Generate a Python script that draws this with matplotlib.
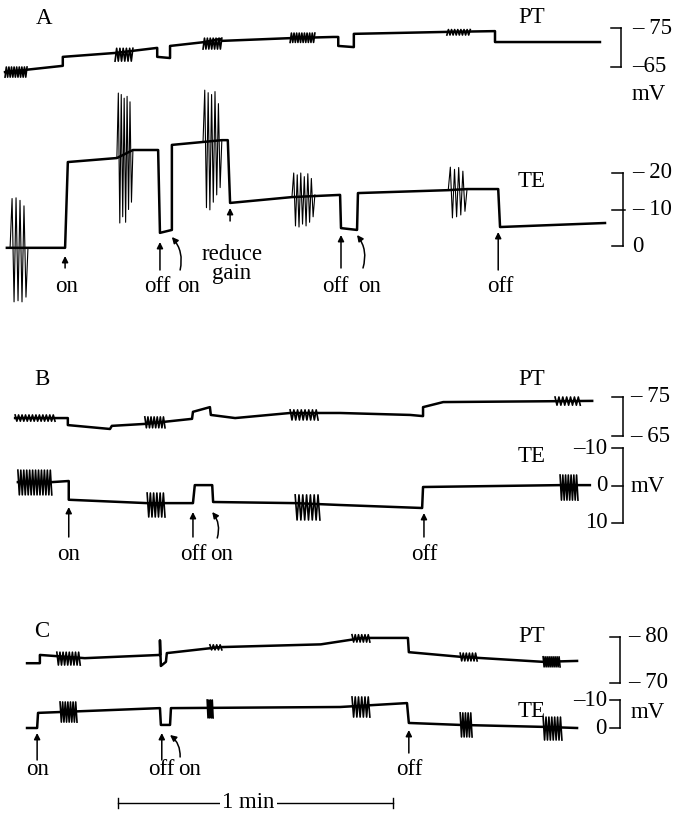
import numpy as np
import matplotlib.pyplot as plt

plt.rcParams['font.family'] = ['Liberation Serif', 'DejaVu Serif']

W, H = 673, 815            # output size in pixels
PX_PER_S = 275 / 60.0      # the 1 min bar is 275 px long
T_MAX = W / PX_PER_S
FS = 16.5

# ---------------- data (time in s, potential in mV) ----------------
# panel A, PT
a_pt_t = [1.1, 13.7, 13.7, 25.1, 34.3, 34.3, 37.1, 37.1, 44.7, 48.0, 48.4, 63.3,
          72.7, 73.8, 73.8, 77.2, 77.2, 97.5, 108.0, 108.0, 130.9]
a_pt_v = [-63.7, -65.3, -67.6, -68.6, -69.9, -67.6, -67.3, -70.4, -71.4, -72.2, -71.7, -72.4,
          -72.7, -72.7, -70.4, -70.1, -73.5, -74.0, -74.2, -71.4, -71.4]
# bursts: start, end, high, low, cycles
a_pt_bursts = [(1.1, 5.9, -62.4, -65.0, 9), (25.1, 29.0, -66.5, -69.8, 6),
               (44.3, 48.4, -69.6, -72.4, 7), (63.3, 68.7, -71.3, -73.7, 10),
               (97.5, 102.6, -73.2, -74.6, 8)]

# panel A, TE
a_te_t = [1.5, 14.2, 14.8, 25.5, 29.0, 34.5, 34.9, 37.5, 37.5, 44.3, 48.4, 49.7, 50.2,
          63.7, 74.2, 74.4, 77.9, 78.1, 97.8, 101.9, 108.7, 109.1, 132.0]
a_te_v = [-0.5, -0.5, 23.0, 24.1, 26.3, 26.3, 3.6, 4.4, 27.7, 28.5, 29.0, 29.0, 11.8,
          13.4, 14.0, 4.9, 4.4, 14.5, 15.3, 15.6, 15.6, 5.2, 6.3]
# large spike bursts: start, end, successive peak values
a_te_spikes = [
    (2.2, 6.1, [-0.5, 13.0, -15.3, 13.2, -15.0, 12.5, -15.3, 11.0, -14.0, -0.5]),
    (25.5, 29.0, [24.1, 41.9, 6.3, 41.5, 8.0, 40.5, 6.5, 41.0, 10.0, 39.5, 12.0, 26.3]),
    (44.3, 48.4, [28.5, 42.7, 10.5, 42.0, 9.9, 41.5, 12.0, 42.3, 14.0, 39.0, 16.0, 29.0]),
    (63.7, 68.7, [13.4, 20.0, 5.5, 19.5, 5.2, 20.0, 6.0, 19.0, 5.5, 19.8, 6.5, 18.5, 8.0, 14.0]),
    (97.8, 101.9, [15.3, 21.6, 7.7, 21.0, 8.0, 21.5, 8.5, 20.5, 9.5, 15.6]),
]
a_event_t = [14.2, 34.9, 37.5, 50.2, 74.4, 77.9, 108.7]
a_event_lbl = ["on", "off", "on", "reduce\ngain", "off", "on", "off"]

# panel B, PT
b_pt_t = [3.3, 14.8, 14.8, 24.0, 24.4, 31.6, 41.9, 42.1, 45.8, 46.0, 51.3, 63.3, 74.2,
          89.5, 92.3, 92.3, 96.7, 129.2]
b_pt_v = [-69.6, -69.6, -67.8, -66.8, -67.6, -68.1, -69.4, -71.2, -72.4, -70.4, -69.6, -70.9,
          -70.9, -70.4, -70.1, -72.4, -73.7, -74.0]
b_pt_bursts = [(3.3, 12.0, -70.4, -68.8, 12), (31.6, 36.0, -69.9, -67.1, 7),
               (63.3, 69.4, -71.7, -69.1, 8), (121.1, 126.6, -75.0, -72.9, 7)]

# panel B, TE
b_te_t = [3.9, 11.3, 15.0, 15.0, 32.1, 42.1, 42.5, 46.3, 46.5, 64.4, 74.2, 92.1, 92.3,
          122.2, 128.7]
b_te_v = [-0.9, -0.9, -1.2, 3.8, 4.7, 4.7, -0.1, -0.1, 4.4, 4.7, 5.2, 6.0, 0.4, -0.1, -0.1]
b_te_bursts = [(3.9, 11.3, -4.1, 2.5, 12), (32.1, 36.0, 2.0, 8.4, 6),
               (64.4, 69.8, 2.5, 9.2, 7), (122.2, 126.1, -2.8, 3.9, 7)]
b_event_t = [15.0, 42.1, 46.3, 92.5]
b_event_lbl = ["on", "off", "on", "off"]

# panel C, PT
c_pt_t = [5.9, 8.7, 8.7, 18.5, 34.9, 34.9, 35.1, 36.2, 36.4, 48.0, 70.0, 79.2, 89.0, 89.2,
          100.4, 118.5, 125.9]
c_pt_v = [-74.3, -74.3, -76.1, -75.4, -76.1, -79.3, -73.7, -74.6, -76.5, -77.8, -78.4, -79.8,
          -79.8, -76.7, -75.7, -74.6, -74.8]
c_pt_bursts = [(12.4, 17.5, -76.7, -73.9, 8), (45.8, 48.4, -78.3, -77.2, 4),
               (76.8, 80.7, -80.5, -78.9, 6), (100.4, 104.1, -76.5, -74.8, 6),
               (118.5, 122.2, -75.7, -73.5, 9)]

# panel C, TE
c_te_t = [5.9, 8.1, 8.3, 13.1, 34.9, 35.1, 37.1, 37.3, 74.2, 88.8, 89.2, 100.4, 118.5, 125.9]
c_te_v = [0.0, 0.0, -5.4, -5.7, -7.1, -1.1, -1.1, -7.1, -7.5, -8.9, -1.8, -1.1, -0.4, 0.0]
c_te_bursts = [(13.1, 16.8, -9.3, -2.1, 7), (45.2, 46.5, -10.0, -3.6, 4),
               (76.8, 80.7, -11.1, -3.9, 6), (100.4, 103.0, -5.4, 3.2, 5),
               (118.5, 122.6, -3.9, 4.3, 7)]
c_event_t = [8.1, 35.3, 37.1, 89.2]
c_event_lbl = ["on", "off", "on", "off"]

SCALE_T0, SCALE_LEN = 25.75, 60.0


# ---------------- drawing ----------------
def calib(v1, y1, v2, y2):
    # ylim (bottom, top) for a full-height axes, from a scale bar at pixel rows y1, y2
    k = (v2 - v1) / (y2 - y1)
    return v1 + (H - y1) * k, v1 - y1 * k


fig = plt.figure(figsize=(W / 100, H / 100), dpi=100)
lay = fig.add_axes([0, 0, 1, 1])
lay.set_xlim(0, T_MAX)
lay.set_ylim(H, 0)
lay.axis('off')


def trace_axes(cal):
    ax = fig.add_axes([0, 0, 1, 1], facecolor='none')
    ax.set_xlim(0, T_MAX)
    ax.set_ylim(*calib(*cal))
    ax.axis('off')
    return ax


def draw_trace(ax, t, v, bursts=(), spikes=()):
    ax.plot(t, v, color='k', lw=1.8)
    for t0, t1, hi, lo, n in bursts:
        vals = [hi, lo] * n
        ax.plot(np.linspace(t0, t1, len(vals)), vals, color='k', lw=1.2)
    for t0, t1, vals in spikes:
        ax.plot(np.linspace(t0, t1, len(vals)), vals, color='k', lw=0.8)


def bar(ax, tb, v_ends, v_mid=None, cross=False):
    kw = dict(color='k', lw=1.1, clip_on=False)
    ax.plot([tb, tb], v_ends, **kw)
    for v in v_ends:
        ax.plot([tb - 2.3, tb], [v, v], **kw)
    if v_mid is not None:
        ax.plot([tb - 2.3, tb + (0.5 if cross else 0)], [v_mid, v_mid], **kw)


def events(ts, lbls, tips, tails, bends, dx, row):
    for t, lb, tip, tail, bd, d in zip(ts, lbls, tips, tails, bends, dx):
        cs = "arc3,rad=0.25" if bd else "arc3,rad=0"
        lay.annotate("", xy=(t, tip), xytext=(t + bd, tail),
                     arrowprops=dict(arrowstyle='-|>', color='k', lw=1.1,
                                     shrinkA=0, shrinkB=0, mutation_scale=9,
                                     connectionstyle=cs))
        if "\n" in lb:
            lay.text(t + d, 264, lb, fontsize=FS, ha='center', va='center',
                     linespacing=0.85)
        else:
            lay.text(t + d, row, lb, fontsize=FS, ha='center', va='baseline')


# panel A
ax = trace_axes((-75, 28, -65, 67))
draw_trace(ax, a_pt_t, a_pt_v, a_pt_bursts)
bar(ax, 135.6, [-75, -65])
ax.text(137.9, -75, "– 75", fontsize=FS, va='center')
ax.text(137.9, -65, "–65", fontsize=FS, va='center')

ax = trace_axes((20, 173, 0, 246))
draw_trace(ax, a_te_t, a_te_v, spikes=a_te_spikes)
bar(ax, 135.9, [20, 0], 10, cross=True)
ax.text(137.9, 20, "– 20", fontsize=FS, va='center')
ax.text(137.9, 10, "– 10", fontsize=FS, va='center')
ax.text(137.9, 0, "0", fontsize=FS, va='center')

events(a_event_t, a_event_lbl, [256, 242, 237, 208, 235, 235, 232],
       [268, 270, 270, 221, 268, 268, 270], [0, 0, 1.8, 0, 0, 1.3, 0],
       [0.4, -0.6, 3.7, 0.4, -1.3, 2.8, 0.4], 292)

# panel B
ax = trace_axes((-75, 397, -65, 436))
draw_trace(ax, b_pt_t, b_pt_v, b_pt_bursts)
bar(ax, 135.9, [-75, -65])
ax.text(137.5, -75, "– 75", fontsize=FS, va='center')
ax.text(137.5, -65, "– 65", fontsize=FS, va='center')

ax = trace_axes((-10, 448, 10, 523))
draw_trace(ax, b_te_t, b_te_v, b_te_bursts)
bar(ax, 135.9, [-10, 10], 0)
for v, s in [(-10, "–10"), (0, "0"), (10, "10")]:
    ax.text(132.6, v, s, fontsize=FS, va='center', ha='right')

events(b_event_t, b_event_lbl, [507, 512, 512, 513], [537, 537, 538, 537],
       [0, 0, 1.1, 0], [0.0, 0.0, 2.0, 0.0], 560)

# panel C
ax = trace_axes((-80, 637, -70, 683))
draw_trace(ax, c_pt_t, c_pt_v, c_pt_bursts)
bar(ax, 135.3, [-80, -70])
ax.text(137.0, -80, "– 80", fontsize=FS, va='center')
ax.text(137.0, -70, "– 70", fontsize=FS, va='center')

ax = trace_axes((-10, 700, 0, 728))
draw_trace(ax, c_te_t, c_te_v, c_te_bursts)
bar(ax, 135.3, [-10, 0])
for v, s in [(-10, "–10"), (0, "0")]:
    ax.text(132.4, v, s, fontsize=FS, va='center', ha='right')

events(c_event_t, c_event_lbl, [733, 733, 735, 730], [760, 760, 757, 753],
       [0, 0, 2.2, 0], [0.2, 0.0, 4.2, 0.2], 775)

# panel letters, trace names, units
for s, x, row in [("A", 9.6, 24), ("B", 9.2, 385), ("C", 9.2, 637)]:
    lay.text(x, row, s, fontsize=FS, ha='center', va='baseline')
for s, row in [("PT", 23), ("TE", 187), ("PT", 385), ("TE", 462), ("PT", 642), ("TE", 717)]:
    lay.text(115.9, row, s, fontsize=FS, ha='center', va='baseline')
for x, row in [(137.9, 95), (137.5, 486), (137.5, 713)]:
    lay.text(x, row, "mV", fontsize=FS, va='center')

# time scale bar
lay.plot([SCALE_T0, SCALE_T0 + SCALE_LEN], [803, 803], color='k', lw=1.0)
for t in (SCALE_T0, SCALE_T0 + SCALE_LEN):
    lay.plot([t, t], [798, 808], color='k', lw=1.0)
lay.text(54.2, 803, "1 min", fontsize=FS, ha='center', va='center',
         bbox=dict(facecolor='white', edgecolor='none', pad=1.5))

fig.savefig("out.png", dpi=100)
